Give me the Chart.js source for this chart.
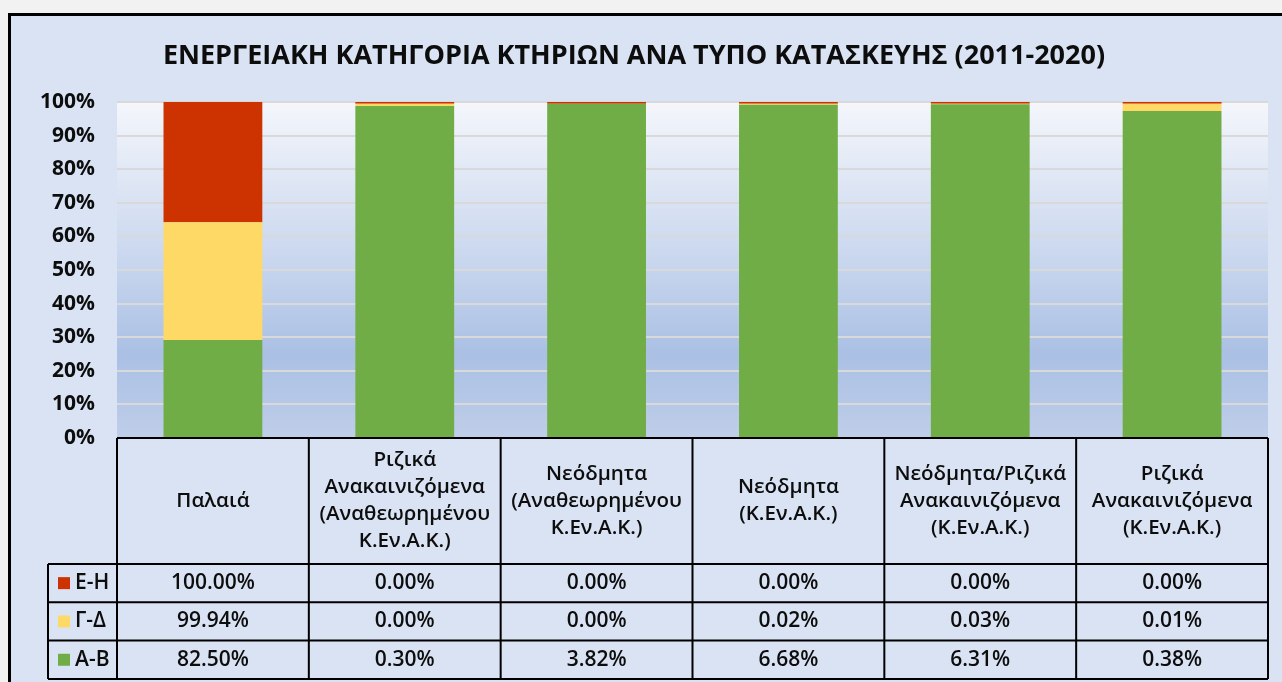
<!DOCTYPE html>
<html>
<head>
<meta charset="utf-8">
<script src="https://cdn.jsdelivr.net/npm/chart.js@4.4.1/dist/chart.umd.min.js"></script>
<style>
  html, body { margin: 0; padding: 0; background: #f2f2f2; overflow: hidden; }
  #frame {
    position: absolute; left: 8px; top: 13px; width: 1320px; height: 720px;
    background: #dae3f3; border: 3px solid #000;
  }
  #wrap { position: absolute; left: 0; top: 0; width: 1282px; height: 682px; }
</style>
</head>
<body>
<div id="frame"></div>
<div id="wrap"><canvas id="energyChart"></canvas></div>
<script>
// categories (multi-line labels as shown in the data table header)
const categories = [
    ['Παλαιά'],
    ['Ριζικά', 'Ανακαινιζόμενα', '(Αναθεωρημένου', 'Κ.Εν.Α.Κ.)'],
    ['Νεόδμητα', '(Αναθεωρημένου', 'Κ.Εν.Α.Κ.)'],
    ['Νεόδμητα', '(Κ.Εν.Α.Κ.)'],
    ['Νεόδμητα/Ριζικά', 'Ανακαινιζόμενα', '(Κ.Εν.Α.Κ.)'],
    ['Ριζικά', 'Ανακαινιζόμενα', '(Κ.Εν.Α.Κ.)']
];

// bar shares (% of column)
const shareAB = [29.2, 98.8, 99.5, 99.2, 99.3, 97.3];
const shareGD = [35.0, 0.7, 0.0, 0.3, 0.2, 2.2];
const shareEH = [35.8, 0.5, 0.5, 0.5, 0.5, 0.5];

// values printed in the data table
const tableEH = ['100.00%', '0.00%', '0.00%', '0.00%', '0.00%', '0.00%'];
const tableGD = ['99.94%', '0.00%', '0.00%', '0.02%', '0.03%', '0.01%'];
const tableAB = ['82.50%', '0.30%', '3.82%', '6.68%', '6.31%', '0.38%'];

const yTicks = [0, 10, 20, 30, 40, 50, 60, 70, 80, 90, 100];

const colors = {
    eh: '#cc3300',
    gd: '#ffd966',
    ab: '#70ad47',
    grid: '#d9d9d9',
    text: '#0d0d0d'
};

const FONT = '"Open Sans", "Noto Sans", sans-serif';

// plot area gradient (Excel style)
const plotBackground = {
    id: 'plotBackground',
    beforeDraw(chart) {
        const { ctx, chartArea: a } = chart;
        const g = ctx.createLinearGradient(0, a.top, 0, a.bottom);
        g.addColorStop(0, '#f4f6fb');
        g.addColorStop(0.45, '#cbd8ef');
        g.addColorStop(0.75, '#aac0e4');
        g.addColorStop(1, '#bfcee9');
        ctx.save();
        ctx.fillStyle = g;
        ctx.fillRect(a.left, a.top, a.right - a.left, a.bottom - a.top);
        ctx.restore();
    }
};

// data table under the plot
const dataTable = {
    id: 'dataTable',
    afterDraw(chart) {
        const { ctx, chartArea: a } = chart;
        const x = chart.scales.x;
        const n = categories.length;
        const colW = (a.right - a.left) / n;
        const headTop = a.bottom;
        const headBottom = 564;
        const rowH = 38.3;
        const legendLeft = 48;
        const rows = [
            { label: 'Ε-Η', color: colors.eh, vals: tableEH },
            { label: 'Γ-Δ', color: colors.gd, vals: tableGD },
            { label: 'Α-Β', color: colors.ab, vals: tableAB }
        ];
        const tableBottom = headBottom + rowH * rows.length;

        ctx.save();
        ctx.strokeStyle = '#000';
        ctx.lineWidth = 2;
        ctx.beginPath();
        // horizontal lines
        ctx.moveTo(a.left, headTop); ctx.lineTo(a.right, headTop);
        for (let r = 0; r <= rows.length; r++) {
            const y = headBottom + r * rowH;
            ctx.moveTo(legendLeft, y); ctx.lineTo(a.right, y);
        }
        // vertical lines
        for (let c = 0; c <= n; c++) {
            const vx = a.left + c * colW;
            ctx.moveTo(vx, headTop); ctx.lineTo(vx, tableBottom);
        }
        ctx.moveTo(legendLeft, headBottom); ctx.lineTo(legendLeft, tableBottom);
        ctx.stroke();

        ctx.fillStyle = colors.text;
        ctx.textAlign = 'center';
        ctx.textBaseline = 'middle';
        // header labels
        ctx.font = '600 20.5px ' + FONT;
        const lh = 27;
        categories.forEach((lines, i) => {
            const cx = x.getPixelForValue(i);
            const cy = (headTop + headBottom) / 2;
            const y0 = cy - (lines.length - 1) * lh / 2;
            lines.forEach((t, k) => ctx.fillText(t, cx, y0 + k * lh));
        });
        // rows
        ctx.font = '600 21px ' + FONT;
        rows.forEach((row, r) => {
            const cy = headBottom + r * rowH + rowH / 2;
            row.vals.forEach((v, i) => {
                ctx.textAlign = 'center';
                ctx.fillText(v, x.getPixelForValue(i), cy);
            });
            ctx.fillStyle = row.color;
            ctx.fillRect(legendLeft + 10, cy - 6, 12, 12);
            ctx.fillStyle = colors.text;
            ctx.textAlign = 'left';
            ctx.fillText(row.label, legendLeft + 27, cy);
        });
        ctx.restore();
    }
};

const ctx = document.getElementById('energyChart').getContext('2d');
new Chart(ctx, {
    type: 'bar',
    data: {
        labels: categories,
        datasets: [
            { label: 'Α-Β', data: shareAB, backgroundColor: colors.ab },
            { label: 'Γ-Δ', data: shareGD, backgroundColor: colors.gd },
            { label: 'Ε-Η', data: shareEH, backgroundColor: colors.eh }
        ]
    },
    options: {
        responsive: true,
        maintainAspectRatio: false,
        animation: false,
        categoryPercentage: 1,
        barPercentage: 0.515,
        layout: { padding: { left: 0, right: 14, top: 0, bottom: 244 } },
        plugins: {
            legend: { display: false },
            tooltip: { enabled: false },
            title: {
                display: true,
                text: 'ΕΝΕΡΓΕΙΑΚΗ ΚΑΤΗΓΟΡΙΑ ΚΤΗΡΙΩΝ ΑΝΑ ΤΥΠΟ ΚΑΤΑΣΚΕΥΗΣ (2011-2020)',
                color: colors.text,
                font: { family: FONT, size: 27, weight: 'bold' },
                padding: { top: 40, bottom: 29.6 }
            }
        },
        scales: {
            x: {
                stacked: true,
                display: false
            },
            y: {
                stacked: true,
                min: 0,
                max: 100,
                afterBuildTicks: (scale) => { scale.ticks = yTicks.map(v => ({ value: v })); },
                afterFit: (scale) => { scale.width = 117; },
                border: { display: false },
                grid: { color: colors.grid, lineWidth: 2, drawTicks: false },
                ticks: {
                    padding: 22,
                    color: colors.text,
                    font: { family: FONT, size: 21, weight: 'bold' },
                    callback: v => v + '%'
                }
            }
        }
    },
    plugins: [plotBackground, dataTable]
});
</script>
</body>
</html>
